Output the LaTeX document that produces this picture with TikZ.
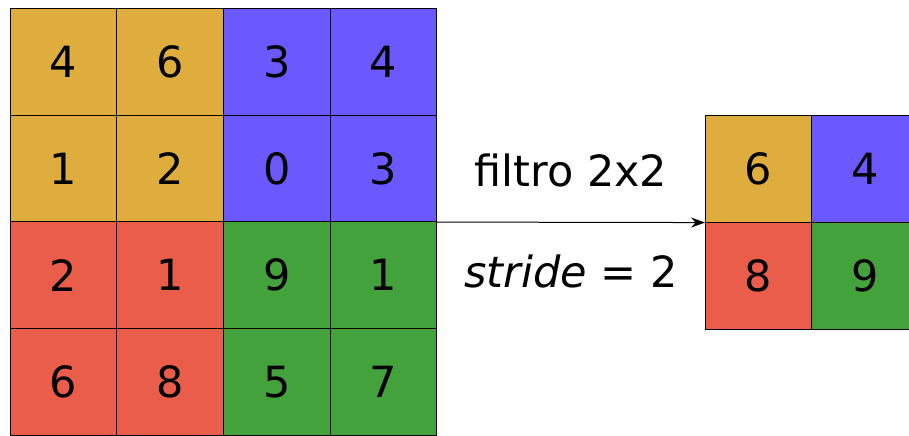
\documentclass[tikz,border=0pt]{standalone}
\usepackage{fontspec}
\setmainfont{DejaVu Sans}
\usetikzlibrary{positioning}
\usetikzlibrary{arrows.meta}

\definecolor{poolorange}{HTML}{DFAD3D}
\definecolor{poolblue}{HTML}{6B58FF}
\definecolor{poolred}{HTML}{E95D4A}
\definecolor{poolgreen}{HTML}{43A23C}

\begin{document}
\begin{tikzpicture}[x=0.5pt,y=-0.5pt]
    \tikzset{
    cell/.style={
        draw,
        line width=0.5pt,
        minimum size=53.3pt,
        inner sep=0pt,
        outer sep=0pt,
        font=\fontsize{21.5}{24}\selectfont
    },
    pool/.style={
        line width=0.5pt,
        -{Stealth[length=7pt,width=5pt]}
    }
}
        \useasboundingbox (0,0) rectangle (909,435);
        \clip (0,0) rectangle (909,435);

        % input 4x4
        \foreach \r/\c/\v/\col in {1/1/4/poolorange,1/2/6/poolorange,1/3/3/poolblue,1/4/4/poolblue,
                                    2/1/1/poolorange,2/2/2/poolorange,2/3/0/poolblue,2/4/3/poolblue,
                                    3/1/2/poolred,3/2/1/poolred,3/3/9/poolgreen,3/4/1/poolgreen,
                                    4/1/6/poolred,4/2/8/poolred,4/3/5/poolgreen,4/4/7/poolgreen}
            \node[cell, fill=\col] (in-\r-\c) at ({10+106.7*(\c-0.5)},{9+106.5*(\r-0.5)}) {\v};

        % output 2x2
        \foreach \r/\c/\v/\col in {1/1/6/poolorange,1/2/4/poolblue,
                                    2/1/8/poolred,2/2/9/poolgreen}
            \node[cell, fill=\col] (out-\r-\c) at ({705+106.7*(\c-0.5)},{116+106.5*(\r-0.5)}) {\v};

        \draw [pool] (in-2-4.south east) -- (out-1-1.south west)
            node[midway, above=14pt, font=\fontsize{21.5}{24}\selectfont] (filt) {filtro 2x2}
            node[midway, below=12.5pt, font=\fontsize{21.5}{24}\selectfont] (strd) {\textit{stride} = 2};
    \end{tikzpicture}
\end{document}
